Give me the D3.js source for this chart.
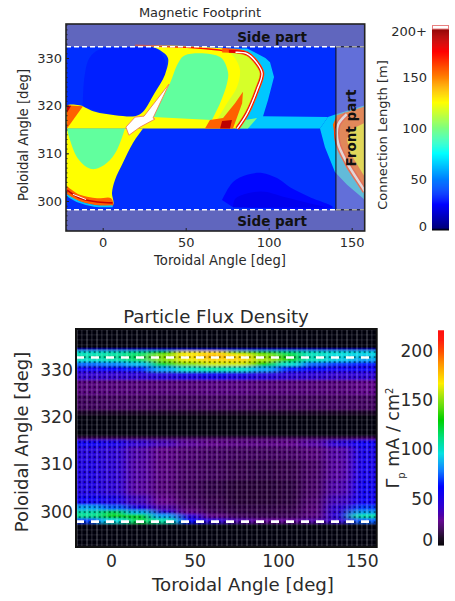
<!DOCTYPE html>
<html lang="en">
<head>
<meta charset="utf-8">
<title>Magnetic Footprint and Particle Flux Density</title>
<script src="https://d3js.org/d3.v7.min.js"></script>
<style>
    html, body { margin: 0; background: #fff; }
    svg { display: block; }
    text { font-family: "DejaVu Sans", sans-serif; fill: #2a2a2a; }
</style>
</head>
<body>
<script>
// tick labels
const torTicks = [0, 50, 100, 150];
const polTicks = [300, 310, 320, 330];
const polMinor = d3.range(294, 338);
const lenTicks = [0, 50, 100, 150, 200];
const fluxTicks = [0, 50, 100, 150, 200];

// separatrix lines, deg
const sepTop = [332.35, 298.15];
const sepBottom = [332.65, 297.9];
const frontEdge = 140.5;

// connection length colours (jet, with a black foot), [value, colour]
const lenStops = [[0, "#000000"], [2, "#00007f"], [25, "#0000ff"], [75, "#00ffff"], [100, "#7fff7f"], [125, "#ffff00"], [175, "#ff0000"], [200, "#7f0000"]];
// particle flux colours
const fluxStops = [[0, "#000000"], [10, "#100018"], [28, "#600090"], [42, "#3000d0"], [62, "#0000ff"], [80, "#0080ff"], [96, "#00e0e0"], [112, "#00e080"], [130, "#00d000"], [150, "#80e000"], [167, "#ffee00"], [188, "#ff9000"], [211, "#ff1000"], [221, "#ff0000"]];

// footprint regions: connection length [m] and outline [toroidal, poloidal] in deg
const baseLen = 34;
const regions = [
    { len: 31, smooth: true, pts: [[-12,319.9],[-11,326],[-8,330],[-2,331.8],[12,332.1],[32,332],[37.5,329.5],[38,327],[34,323],[24,318.5],[19,317.8],[8,318],[-5,319]] },
    { len: 26, smooth: true, pts: [[71.9,300.2],[78.5,304],[87,305.5],[96,305.9],[105,304.8],[112.8,302.9],[124.9,300.8],[138.7,298.7],[78.5,298.7]] },
    { len: 22, smooth: true, pts: [[78.5,298.7],[80,300.5],[95,302],[110,300.8],[125,299.5],[135,298.7]] },
    { len: 64, pts: [[76,332],[87,332],[98,330],[100.8,329.1],[103.2,326],[99.6,321.2],[96.6,317.8],[135.7,317.6],[130.9,315.2],[80,315.2]] },
    { len: 64, pts: [[130.9,315.2],[135.7,317.6],[140.5,318.2],[158,320.1],[158,300],[156.8,300.6],[147.2,303.4],[139.9,306.1],[133.9,311.3]] },
    { len: 156, pts: [[138.7,316],[141,318],[158,319.8],[158,301.5],[147,306.8],[140.5,312]] },
    { len: 125, pts: [[149,314.9],[158,316.4],[158,305],[149,310.1],[147.2,312.8]] },
    { len: 125, smooth: true, pts: [[81,315.2],[87,318],[93,323.3],[96,326.8],[93,329],[87,331],[50.8,332.5],[19.5,332.7],[19.5,332.7],[30,332.3],[35,331.5],[39.3,330],[37.5,326.5],[31,322.5],[24,318.6],[19.5,317.8],[7.4,318],[-4.6,318.7],[-11.9,319.9],[-11.9,319.9],[-21.5,320],[-21.5,315.2]] },
    { len: 117, smooth: true, pts: [[68.9,317],[74.9,320.5],[80.9,323.9],[82.7,327.5],[79.7,330],[76,331.5],[87,331],[93,329],[96,326.8],[93,323.3],[87,318],[81,316]] },
    { len: 94, smooth: true, pts: [[30.3,317.6],[40.5,324.7],[45.4,328.9],[49.6,330.6],[70.7,330.2],[75.5,327],[74.9,324.7],[70.7,320.5],[65.8,317]] },
    { len: 125, smooth: true, pts: [[24.3,315.2],[18.3,312.2],[12.2,308],[7.4,304.4],[5.6,301.7],[6.2,299.2],[-5.8,299.4],[-15.5,300.2],[-21.5,301.7],[-21.5,315.2]] },
    { len: 94, smooth: true, pts: [[13.4,315.2],[8.6,310.7],[2.6,308],[-4.6,306.7],[-9.5,307.1],[-15.5,309.2],[-19.7,312.8],[-21.5,315.2]] },
    { len: 156, smooth: true, pts: [[-21.5,303.1],[-13.7,301.3],[-3.4,300.6],[5,300.6],[6.2,299],[-5.8,299.2],[-15.5,300.2],[-21.5,301.4]] },
    { len: 156, pts: [[-21.5,320.1],[-11.9,319.9],[-21.5,315.2]] },
    { len: 185, pts: [[-21.5,320],[-19,320],[-21.5,318.5]] },
    { len: 156, pts: [[61.6,315.2],[64.6,317],[72.5,317.4],[79.7,320.5],[84.5,322.9],[84,320.5],[78.5,315.2]] },
    { len: 188, pts: [[70.7,315.2],[71.9,316.8],[77.9,317],[76.7,315.2]] },
    { len: 100, pts: [[85.7,317],[93,317.4],[87.5,315.2],[81,315.2]] }
];

// the white spot has no trace reaching it
const whiteSpot = [[39.9,324.5],[30.3,317.4],[31.5,317.2],[22.5,315.5],[15.8,313.8],[14,315.5],[19.5,317.6],[24.9,317.8]];

// thin high-length bands, drawn as strokes
const bands = [
    { len: 172, w: 1.5, pts: [[19.5,332.7],[32,332.5],[50.8,332.25],[70,331.7],[87,330.9]] },
    { len: 158, w: 4.5, pts: [[72,331.6],[87,330.9],[93,328.9],[96,326.8],[93,323.3],[87,318.4],[81,315.2]] },
    { len: 180, w: 3, pts: [[76,331.4],[87,330.9],[93,328.9],[96,326.8],[93,323.3],[87,318.4],[81,315.2]] },
    { len: "w", w: 1.5, pts: [[80,331.2],[87,330.9],[93,328.9],[96,326.8],[93,323.3],[87,318.4],[81,315.2]] },
    { len: 64, w: 1.8, pts: [[-21.5,301.2],[-15,299.9],[-5,299],[6,298.9]] },
    { len: 185, w: 1.6, pts: [[-21.5,302.3],[-13,300.5],[-3,299.8],[6,299.6]] },
    { len: "w", w: 1, pts: [[-18,301.4],[-10,300.3]] },
    { len: 165, w: 5.5, pts: [[147,318.2],[141.7,315.9],[141.7,312.2],[147.2,308],[156.8,302.7],[158,302]] },
    { len: "w", w: 2.5, pts: [[147,318.2],[141.7,315.9],[141.7,312.2],[147.2,308],[156.8,302.7],[158,302]] }
];

// particle flux: row edges (poloidal, top to bottom), column edges (toroidal), values mA/cm2
const fluxPol = [338.7, 334.4, 334, 333.4, 332.5, 331.7, 330.8, 329.6, 327.9, 324.7, 321.5, 320.5, 315.8, 315.2, 313.7, 311, 306.7, 303.5, 301.4, 300.3, 299.5, 298.6, 297.6, 292.5];
const fluxTor = [-21, -6, 9, 24, 39, 54, 69, 84, 99, 114, 129, 144, 159];
const fluxRows = [
    [4,4,4,4,4,4,4,4,4,4,4,4],
    [55,55,55,55,55,55,55,55,55,55,55,55],
    [100,104,112,130,165,170,150,135,115,102,98,95],
    [105,108,118,150,170,180,170,150,125,102,95,92],
    [100,104,116,150,165,172,172,155,130,102,92,85],
    [76,80,90,125,150,160,160,130,100,75,68,64],
    [58,60,65,85,100,105,100,85,65,60,58,58],
    [42,42,44,48,52,55,52,48,44,44,42,45],
    [25,25,25,25,25,26,26,25,25,25,25,27],
    [20,21,21,20,20,21,21,20,20,20,21,21],
    [12,12,12,12,12,12,12,12,12,12,12,12],
    [4,4,4,4,4,4,4,4,4,4,4,4],
    [20,20,20,20,20,20,20,20,20,20,20,22],
    [56,52,42,36,30,27,26,26,27,32,44,58],
    [48,44,34,27,24,22,21,21,22,25,33,52],
    [50,44,33,26,22,20,18,17,18,22,32,54],
    [50,44,32,25,20,17,15,15,16,22,34,56],
    [58,52,38,28,21,18,15,15,16,23,38,58],
    [85,75,52,34,24,19,17,17,18,25,44,70],
    [105,118,88,48,28,21,17,17,18,25,44,85],
    [110,130,125,85,46,27,21,19,20,26,46,105],
    [70,95,120,105,60,44,34,29,29,33,42,75],
    [3,3,3,3,3,3,3,3,3,3,3,3]
];

const width = 455, height = 601;

const colorScale = stops => d3.scaleLinear()
    .domain(stops.map(d => d[0]))
    .range(stops.map(d => d[1]))
    .clamp(true);
const lenColor = colorScale(lenStops);
const fluxColor = colorScale(fluxStops);

const svg = d3.select("body").append("svg")
    .attr("width", width)
    .attr("height", height);
const defs = svg.append("defs");

// top panel
const boxTop = { x0: 66, x1: 364.7, y0: 24, y1: 231 };
const xTop = d3.scaleLinear().domain([0, 150]).range([102.7, 351.7]);
const yTop = d3.scaleLinear().domain([300, 330]).range([201, 58]);

defs.append("clipPath").attr("id", "clipTop").append("rect")
    .attr("x", boxTop.x0).attr("y", boxTop.y0)
    .attr("width", boxTop.x1 - boxTop.x0).attr("height", boxTop.y1 - boxTop.y0);

const mapG = svg.append("g").attr("clip-path", "url(#clipTop)");
mapG.append("rect")
    .attr("x", boxTop.x0).attr("y", boxTop.y0)
    .attr("width", boxTop.x1 - boxTop.x0).attr("height", boxTop.y1 - boxTop.y0)
    .attr("fill", lenColor(baseLen));

const lineTop = d3.line().x(d => xTop(d[0])).y(d => yTop(d[1]));
const curveTop = d3.line().x(d => xTop(d[0])).y(d => yTop(d[1])).curve(d3.curveCatmullRom.alpha(0.5));

mapG.selectAll("path.region")
    .data(regions)
    .enter()
    .append("path")
    .attr("class", "region")
    .attr("d", d => (d.smooth ? curveTop(d.pts) : lineTop(d.pts)) + "Z")
    .attr("fill", d => lenColor(d.len));

mapG.selectAll("path.band")
    .data(bands)
    .enter()
    .append("path")
    .attr("class", "band")
    .attr("d", d => curveTop(d.pts))
    .attr("fill", "none")
    .attr("stroke", d => d.len === "w" ? "#fff" : lenColor(d.len))
    .attr("stroke-width", d => d.w)
    .attr("stroke-linejoin", "round");

mapG.append("path")
    .attr("d", lineTop(whiteSpot) + "Z")
    .attr("fill", "#fff")
    .attr("stroke", "#f07050")
    .attr("stroke-width", 0.8);

// shaded side and front parts
mapG.append("rect")
    .attr("x", boxTop.x0).attr("y", boxTop.y0)
    .attr("width", boxTop.x1 - boxTop.x0).attr("height", yTop(sepTop[0]) - boxTop.y0)
    .attr("fill", "rgb(160,140,147)").attr("fill-opacity", 0.6);
mapG.append("rect")
    .attr("x", boxTop.x0).attr("y", yTop(sepTop[1]))
    .attr("width", boxTop.x1 - boxTop.x0).attr("height", boxTop.y1 - yTop(sepTop[1]))
    .attr("fill", "rgb(160,140,147)").attr("fill-opacity", 0.6);
mapG.append("rect")
    .attr("x", xTop(frontEdge)).attr("y", yTop(sepTop[0]))
    .attr("width", boxTop.x1 - xTop(frontEdge)).attr("height", yTop(sepTop[1]) - yTop(sepTop[0]))
    .attr("fill", "rgb(196,176,180)").attr("fill-opacity", 0.5)
    .attr("stroke", "#111").attr("stroke-width", 1);

sepTop.forEach(p => {
    mapG.append("line")
        .attr("x1", boxTop.x0).attr("x2", xTop(frontEdge))
        .attr("y1", yTop(p)).attr("y2", yTop(p))
        .attr("stroke", "#fff").attr("stroke-width", 1.6)
        .attr("stroke-dasharray", "5,3");
    mapG.append("line")
        .attr("x1", xTop(frontEdge)).attr("x2", boxTop.x1)
        .attr("y1", yTop(p)).attr("y2", yTop(p))
        .attr("stroke", "#a8a8a8").attr("stroke-width", 1.4)
        .attr("stroke-dasharray", "5,3");
});

mapG.selectAll("text.side")
    .data([334.3, 295.7])
    .enter()
    .append("text")
    .attr("class", "side")
    .attr("x", xTop(102))
    .attr("y", d => yTop(d))
    .attr("dy", "0.35em")
    .attr("text-anchor", "middle")
    .attr("font-size", 13.5)
    .attr("font-weight", "bold")
    .style("fill", "#111")
    .text("Side part");

svg.append("text")
    .attr("transform", "translate(" + xTop(149.5) + "," + yTop(315.3) + ") rotate(-90)")
    .attr("dy", "0.35em")
    .attr("text-anchor", "middle")
    .attr("font-size", 13.5)
    .attr("font-weight", "bold")
    .style("fill", "#111")
    .text("Front part");

svg.append("rect")
    .attr("x", boxTop.x0).attr("y", boxTop.y0)
    .attr("width", boxTop.x1 - boxTop.x0).attr("height", boxTop.y1 - boxTop.y0)
    .attr("fill", "none").attr("stroke", "#222").attr("stroke-width", 1.6);

function drawAxes(x, y, box, fs, padX, padY, tickLen) {
    const bottomAxis = svg.append("g")
        .attr("transform", "translate(0," + box.y1 + ")")
        .call(d3.axisBottom(x).tickValues(torTicks).tickSize(-tickLen).tickPadding(padX));
    const leftAxis = svg.append("g")
        .attr("transform", "translate(" + box.x0 + ",0)")
        .call(d3.axisLeft(y).tickValues(polTicks).tickSize(-tickLen).tickPadding(padY));
    const axes = [bottomAxis, leftAxis];
    if (tickLen > 0) {
        axes.push(svg.append("g")
            .attr("transform", "translate(" + box.x0 + ",0)")
            .call(d3.axisLeft(y).tickValues(polMinor).tickSize(-1.5).tickFormat("")));
    }
    axes.forEach(g => {
        g.select(".domain").remove();
        g.selectAll("line").attr("stroke", "#222");
        g.selectAll("text").attr("font-size", fs).style("font-family", "DejaVu Sans, sans-serif").style("fill", "#2a2a2a");
    });
}
drawAxes(xTop, yTop, boxTop, 13, 7, 4, 3);

function label(txt, x, y, fs, rot) {
    return svg.append("text")
        .attr("transform", "translate(" + x + "," + y + ")" + (rot ? " rotate(-90)" : ""))
        .attr("dy", "0.35em")
        .attr("text-anchor", "middle")
        .attr("font-size", fs)
        .text(txt);
}
label("Magnetic Footprint", 200, 12, 13);
label("Toroidal Angle [deg]", 220, 260, 13.2);
label("Poloidal Angle [deg]", 23, 135, 13.2, true);
label("Connection Length [m]", 382.5, 135, 13, true);

// connection length colour bar
const cbTop = { x: 432, w: 17 };
const yLen = d3.scaleLinear().domain([0, 200]).range([230, 26]);
svg.selectAll("rect.cbLen")
    .data(d3.range(0, 197.5, 1))
    .enter()
    .append("rect")
    .attr("class", "cbLen")
    .attr("x", cbTop.x).attr("width", cbTop.w)
    .attr("y", d => yLen(d + 1))
    .attr("height", yLen(0) - yLen(1) + 0.5)
    .attr("fill", d => lenColor(d));
svg.append("rect")
    .attr("x", cbTop.x + 0.5).attr("width", cbTop.w - 1)
    .attr("y", 25.5).attr("height", 3.5)
    .attr("fill", "#fff").attr("stroke", "#e88080").attr("stroke-width", 1);
svg.selectAll("text.lenTick")
    .data(lenTicks)
    .enter()
    .append("text")
    .attr("class", "lenTick")
    .attr("x", 427)
    .attr("y", d => yLen(d) + (d === 0 ? -4 : d === 200 ? 5 : 0))
    .attr("dy", "0.35em")
    .attr("text-anchor", "end")
    .attr("font-size", 13)
    .text(d => d === 200 ? "200+" : d);

// bottom panel
const boxBot = { x0: 76, x1: 376.7, y0: 329, y1: 547 };
const xBot = d3.scaleLinear().domain([0, 150]).range([111, 361.7]);
const yBot = d3.scaleLinear().domain([300, 330]).range([511.7, 370]);

defs.append("clipPath").attr("id", "clipBot").append("rect")
    .attr("x", boxBot.x0).attr("y", boxBot.y0)
    .attr("width", boxBot.x1 - boxBot.x0).attr("height", boxBot.y1 - boxBot.y0);
defs.append("filter").attr("id", "soft")
    .attr("filterUnits", "userSpaceOnUse")
    .attr("x", 40).attr("y", 300).attr("width", 380).attr("height", 280)
    .append("feGaussianBlur").attr("stdDeviation", "6,0.8");

// camera pixel lattice seen through the image
const lattice = defs.append("pattern").attr("id", "lattice")
    .attr("patternUnits", "userSpaceOnUse")
    .attr("x", boxBot.x0).attr("y", boxBot.y0)
    .attr("width", 10).attr("height", 5);
lattice.append("rect").attr("x", 0).attr("width", 2).attr("height", 5).attr("fill", "#fff").attr("fill-opacity", 0.17);
lattice.append("rect").attr("x", 5).attr("width", 1.6).attr("height", 5).attr("fill", "#fff").attr("fill-opacity", 0.11);
lattice.append("rect").attr("y", 0).attr("width", 10).attr("height", 1.6).attr("fill", "#fff").attr("fill-opacity", 0.07);
[2.8, 7.8].forEach(x => {
    lattice.append("rect").attr("x", x).attr("y", 2.2).attr("width", 1.8).attr("height", 1.8).attr("fill", "#000").attr("fill-opacity", 0.45);
});

const heatG = svg.append("g").attr("clip-path", "url(#clipBot)");
heatG.append("rect")
    .attr("x", boxBot.x0).attr("y", boxBot.y0)
    .attr("width", boxBot.x1 - boxBot.x0).attr("height", boxBot.y1 - boxBot.y0)
    .attr("fill", "#000");

const cells = fluxRows.flatMap((row, i) => row.map((v, j) => ({ i, j, v })));
const lastCol = fluxTor.length - 2;
heatG.append("g")
    .attr("filter", "url(#soft)")
    .selectAll("rect")
    .data(cells)
    .enter()
    .append("rect")
    .attr("x", d => xBot(fluxTor[d.j]) - (d.j === 0 ? 25 : 0))
    .attr("y", d => yBot(fluxPol[d.i]) - (d.i === 0 ? 6 : 0))
    .attr("width", d => xBot(fluxTor[d.j + 1]) - xBot(fluxTor[d.j]) + (d.j === 0 || d.j === lastCol ? 25.5 : 0.5))
    .attr("height", d => yBot(fluxPol[d.i + 1]) - yBot(fluxPol[d.i]) + (d.i === 0 ? 6.3 : 0.3))
    .attr("fill", d => fluxColor(d.v));

heatG.append("rect")
    .attr("x", boxBot.x0).attr("y", boxBot.y0)
    .attr("width", boxBot.x1 - boxBot.x0).attr("height", boxBot.y1 - boxBot.y0)
    .attr("fill", "url(#lattice)");

sepBottom.forEach(p => {
    heatG.append("line")
        .attr("x1", boxBot.x0).attr("x2", boxBot.x1)
        .attr("y1", yBot(p)).attr("y2", yBot(p))
        .attr("stroke", "#fff").attr("stroke-width", 2.6)
        .attr("stroke-dasharray", "8,7");
});

svg.append("rect")
    .attr("x", boxBot.x0).attr("y", boxBot.y0)
    .attr("width", boxBot.x1 - boxBot.x0).attr("height", boxBot.y1 - boxBot.y0)
    .attr("fill", "none").attr("stroke", "#111").attr("stroke-width", 2);

drawAxes(xBot, yBot, boxBot, 17.2, 8, 3, 0);

label("Particle Flux Density", 216, 317, 18.2);
label("Toroidal Angle [deg]", 243, 585, 18.2);
label("Poloidal Angle [deg]", 22, 442, 18, true);

// flux colour bar
const cbBot = { x: 438, w: 6 };
const yFlux = d3.scaleLinear().domain([0, 200]).range([548, 351]);
svg.selectAll("rect.cbFlux")
    .data(d3.range(3, 221, 1))
    .enter()
    .append("rect")
    .attr("class", "cbFlux")
    .attr("x", cbBot.x).attr("width", cbBot.w)
    .attr("y", d => yFlux(d + 1))
    .attr("height", yFlux(0) - yFlux(1) + 0.5)
    .attr("fill", d => fluxColor(d));
svg.selectAll("text.fluxTick")
    .data(fluxTicks)
    .enter()
    .append("text")
    .attr("class", "fluxTick")
    .attr("x", 433)
    .attr("y", d => yFlux(d) + (d === 0 ? -8 : 0))
    .attr("dy", "0.35em")
    .attr("text-anchor", "end")
    .attr("font-size", 17)
    .text(d => d);

const fluxLabel = svg.append("text")
    .attr("transform", "translate(393,438) rotate(-90)")
    .attr("dy", "0.35em")
    .attr("text-anchor", "middle")
    .attr("font-size", 17.5);
fluxLabel.append("tspan").text("\u0393");
fluxLabel.append("tspan").attr("font-size", 10).attr("dy", "0.55em").text("p");
fluxLabel.append("tspan").attr("dy", "-0.3em").text(" mA / cm");
fluxLabel.append("tspan").attr("font-size", 10).attr("dy", "-0.6em").text("2");
</script>
</body>
</html>
